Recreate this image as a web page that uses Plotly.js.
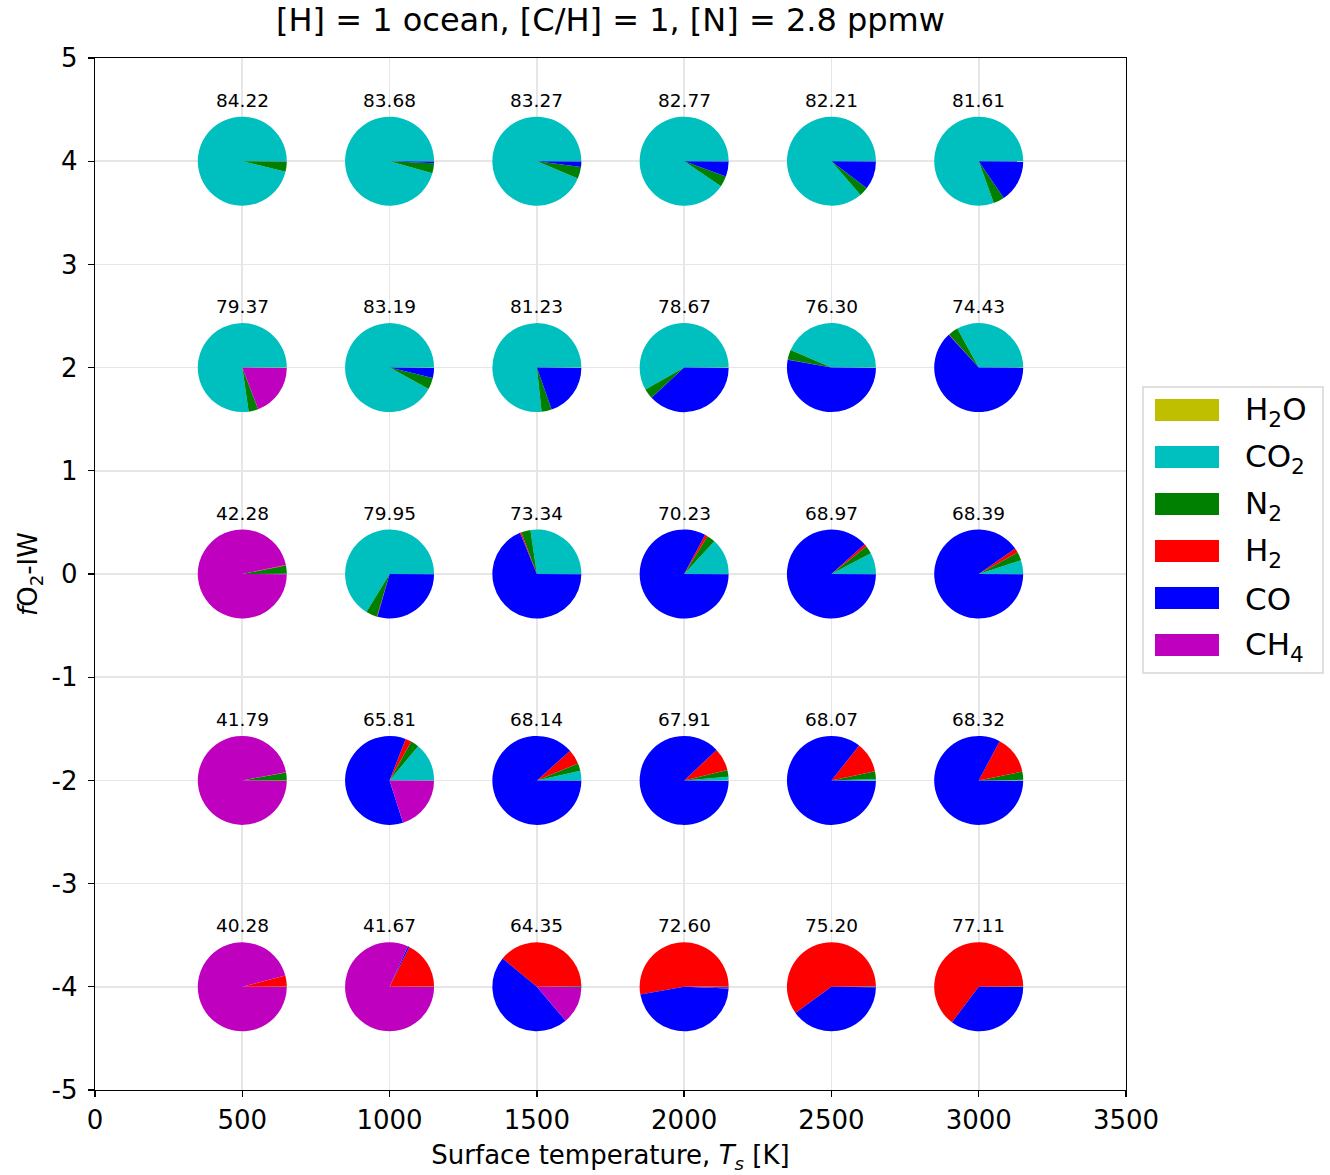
<!DOCTYPE html>
<html>
<head>
<meta charset="utf-8">
<script src="https://cdn.plot.ly/plotly-3.0.1.min.js"></script>
<style>html,body{margin:0;padding:0;background:#fff;}#chart{width:1330px;height:1175px;}</style>
</head>
<body>
<div id="chart"></div>
<script>
// ---- data ----
const temps = [500, 1000, 1500, 2000, 2500, 3000];
const fo2Levels = [4, 2, 0, -2, -4];
const species = ['H2O', 'CO2', 'N2', 'H2', 'CO', 'CH4'];
const speciesLabels = ['H<sub>2</sub>O', 'CO<sub>2</sub>', 'N<sub>2</sub>', 'H<sub>2</sub>', 'CO', 'CH<sub>4</sub>'];
const speciesColors = ['#bfbf00', '#00bfbf', '#008000', '#ff0000', '#0000ff', '#bf00bf'];

// volume mixing fractions, row by row (fO2 = 4, 2, 0, -2, -4), each row T = 500..3000
const h2o = [0.001,0.001,0.001,0.001,0.001,0.001,
             0.001,0.001,0.001,0.001,0.001,0.001,
             0.001,0.001,0.001,0.001,0.001,0.001,
             0.002,0.001,0.001,0.002,0.002,0.002,
             0.001,0.001,0.001,0.001,0.001,0.001];
const co2 = [0.962,0.956,0.936,0.905,0.863,0.805,
             0.773,0.920,0.767,0.582,0.435,0.330,
             0.001,0.663,0.273,0.131,0.077,0.050,
             0.000,0.139,0.035,0.013,0.005,0.002,
             0.000,0.000,0.000,0.000,0.000,0.000];
const n2  = [0.036,0.037,0.043,0.039,0.033,0.040,
             0.035,0.042,0.037,0.036,0.036,0.036,
             0.030,0.041,0.034,0.031,0.029,0.030,
             0.028,0.030,0.027,0.025,0.028,0.030,
             0.001,0.002,0.003,0.003,0.002,0.002];
const h2  = [0.000,0.000,0.000,0.000,0.000,0.000,
             0.000,0.000,0.000,0.001,0.001,0.002,
             0.001,0.002,0.005,0.010,0.010,0.017,
             0.001,0.022,0.054,0.082,0.110,0.140,
             0.040,0.175,0.387,0.525,0.598,0.645];
const co  = [0.001,0.006,0.020,0.055,0.103,0.154,
             0.000,0.037,0.195,0.380,0.527,0.631,
             0.000,0.293,0.687,0.827,0.883,0.902,
             0.000,0.608,0.883,0.878,0.855,0.826,
             0.000,0.006,0.472,0.466,0.398,0.352];
const ch4 = [0.000,0.000,0.000,0.000,0.000,0.000,
             0.191,0.000,0.000,0.000,0.000,0.000,
             0.967,0.000,0.000,0.000,0.000,0.000,
             0.969,0.200,0.000,0.000,0.000,0.000,
             0.958,0.816,0.137,0.005,0.001,0.000];
// value printed above each pie
const pieLabels = ['84.22','83.68','83.27','82.77','82.21','81.61',
                   '79.37','83.19','81.23','78.67','76.30','74.43',
                   '42.28','79.95','73.34','70.23','68.97','68.39',
                   '41.79','65.81','68.14','67.91','68.07','68.32',
                   '40.28','41.67','64.35','72.60','75.20','77.11'];
const xTicks = [0, 500, 1000, 1500, 2000, 2500, 3000, 3500];
const yTicks = [5, 4, 3, 2, 1, 0, -1, -2, -3, -4, -5];
const yTickText = ['5','4','3','2','1','0','-1','-2','-3','-4','-5'];

// ---- layout geometry ----
const W = 1330, H = 1175;
const M = {l: 95, r: 204, t: 58, b: 85};
const PW = W - M.l - M.r, PH = H - M.t - M.b;
const xRange = [0, 3500], yRange = [-5, 5];
const pieR = 44.5; // px
const FONT = 'DejaVu Sans, sans-serif';

const traces = [];
const annotations = [];
const gx = [], gy = [];
fo2Levels.forEach((f, i) => {
  temps.forEach((T, j) => {
    const k = i * temps.length + j;
    gx.push(T); gy.push(f);
    const fx = (T - xRange[0]) / (xRange[1] - xRange[0]);
    const fy = (f - yRange[0]) / (yRange[1] - yRange[0]);
    const rx = pieR / PW, ry = pieR / PH;
    traces.push({
      type: 'pie',
      values: [h2o[k], co2[k], n2[k], h2[k], co[k], ch4[k]],
      labels: species,
      marker: {colors: speciesColors, line: {width: 0}},
      sort: false,
      direction: 'counterclockwise',
      rotation: 90,
      textinfo: 'none',
      hoverinfo: 'label+percent',
      showlegend: false,
      domain: {x: [fx - rx, fx + rx], y: [fy - ry, fy + ry]}
    });
    annotations.push({
      x: T, y: f, xref: 'x', yref: 'y', text: pieLabels[k],
      showarrow: false, yshift: 61, yanchor: 'middle',
      font: {family: FONT, size: 18.5, color: '#000'}
    });
  });
});

// anchor trace for the cartesian axes
traces.unshift({
  type: 'scatter', x: gx, y: gy, mode: 'markers',
  marker: {opacity: 0}, hoverinfo: 'skip', showlegend: false
});

// custom legend (matplotlib style)
const px2x = p => (p - M.l) / PW;
const px2y = p => (H - M.b - p) / PH;
const shapes = [];
shapes.push({
  type: 'path', xref: 'paper', yref: 'paper',
  path: (function(){
    const x0 = px2x(1143), x1 = px2x(1323), y0 = px2y(673), y1 = px2y(387);
    return `M${x0},${y0} L${x1},${y0} L${x1},${y1} L${x0},${y1} Z`;
  })(),
  line: {color: '#d6d6d6', width: 1.5}, fillcolor: 'rgba(255,255,255,0.8)', layer: 'above'
});
species.forEach((s, i) => {
  const cy = 410 + 47 * i;
  shapes.push({
    type: 'rect', xref: 'paper', yref: 'paper', layer: 'above',
    x0: px2x(1155), x1: px2x(1219), y0: px2y(cy + 11), y1: px2y(cy - 11),
    fillcolor: speciesColors[i], line: {width: 0}
  });
  annotations.push({
    xref: 'paper', yref: 'paper', x: px2x(1243), y: px2y(cy + 1),
    xanchor: 'left', yanchor: 'middle', showarrow: false,
    text: speciesLabels[i], font: {family: FONT, size: 31, color: '#000'}
  });
});

const axisCommon = {
  showline: true, linecolor: '#000', linewidth: 1.3, mirror: true,
  ticks: 'outside', ticklen: 6, tickwidth: 1.3, tickcolor: '#000',
  showgrid: true, gridcolor: '#e6e6e6', gridwidth: 1.6, zeroline: false,
  automargin: false,
  tickfont: {family: FONT, size: 26, color: '#000'}
};

const layout = {
  width: W, height: H,
  margin: M,
  paper_bgcolor: '#fff', plot_bgcolor: '#fff',
  font: {family: FONT, color: '#000'},
  title: {text: '[H] = 1 ocean, [C/H] = 1, [N] = 2.8 ppmw',
          font: {family: FONT, size: 32, color: '#000'},
          x: (M.l + PW / 2) / W, xanchor: 'center', y: 1 - 20 / H, yanchor: 'middle'},
  xaxis: Object.assign({}, axisCommon, {
    range: xRange, tickmode: 'array', tickvals: xTicks,
    ticktext: xTicks.map(String),
    title: {text: 'Surface temperature, <i>T<sub>s</sub></i> [K]',
            font: {family: FONT, size: 26, color: '#000'}, standoff: 12}
  }),
  yaxis: Object.assign({}, axisCommon, {
    range: yRange, tickmode: 'array', tickvals: yTicks, ticktext: yTickText,
    ticklabelstandoff: 5,
    title: {text: '<i>f</i>O<sub>2</sub>-IW',
            font: {family: FONT, size: 26, color: '#000'}, standoff: 6}
  }),
  showlegend: false,
  annotations: annotations,
  shapes: shapes
};

Plotly.newPlot('chart', traces, layout, {displayModeBar: false, staticPlot: true});
</script>
</body>
</html>
